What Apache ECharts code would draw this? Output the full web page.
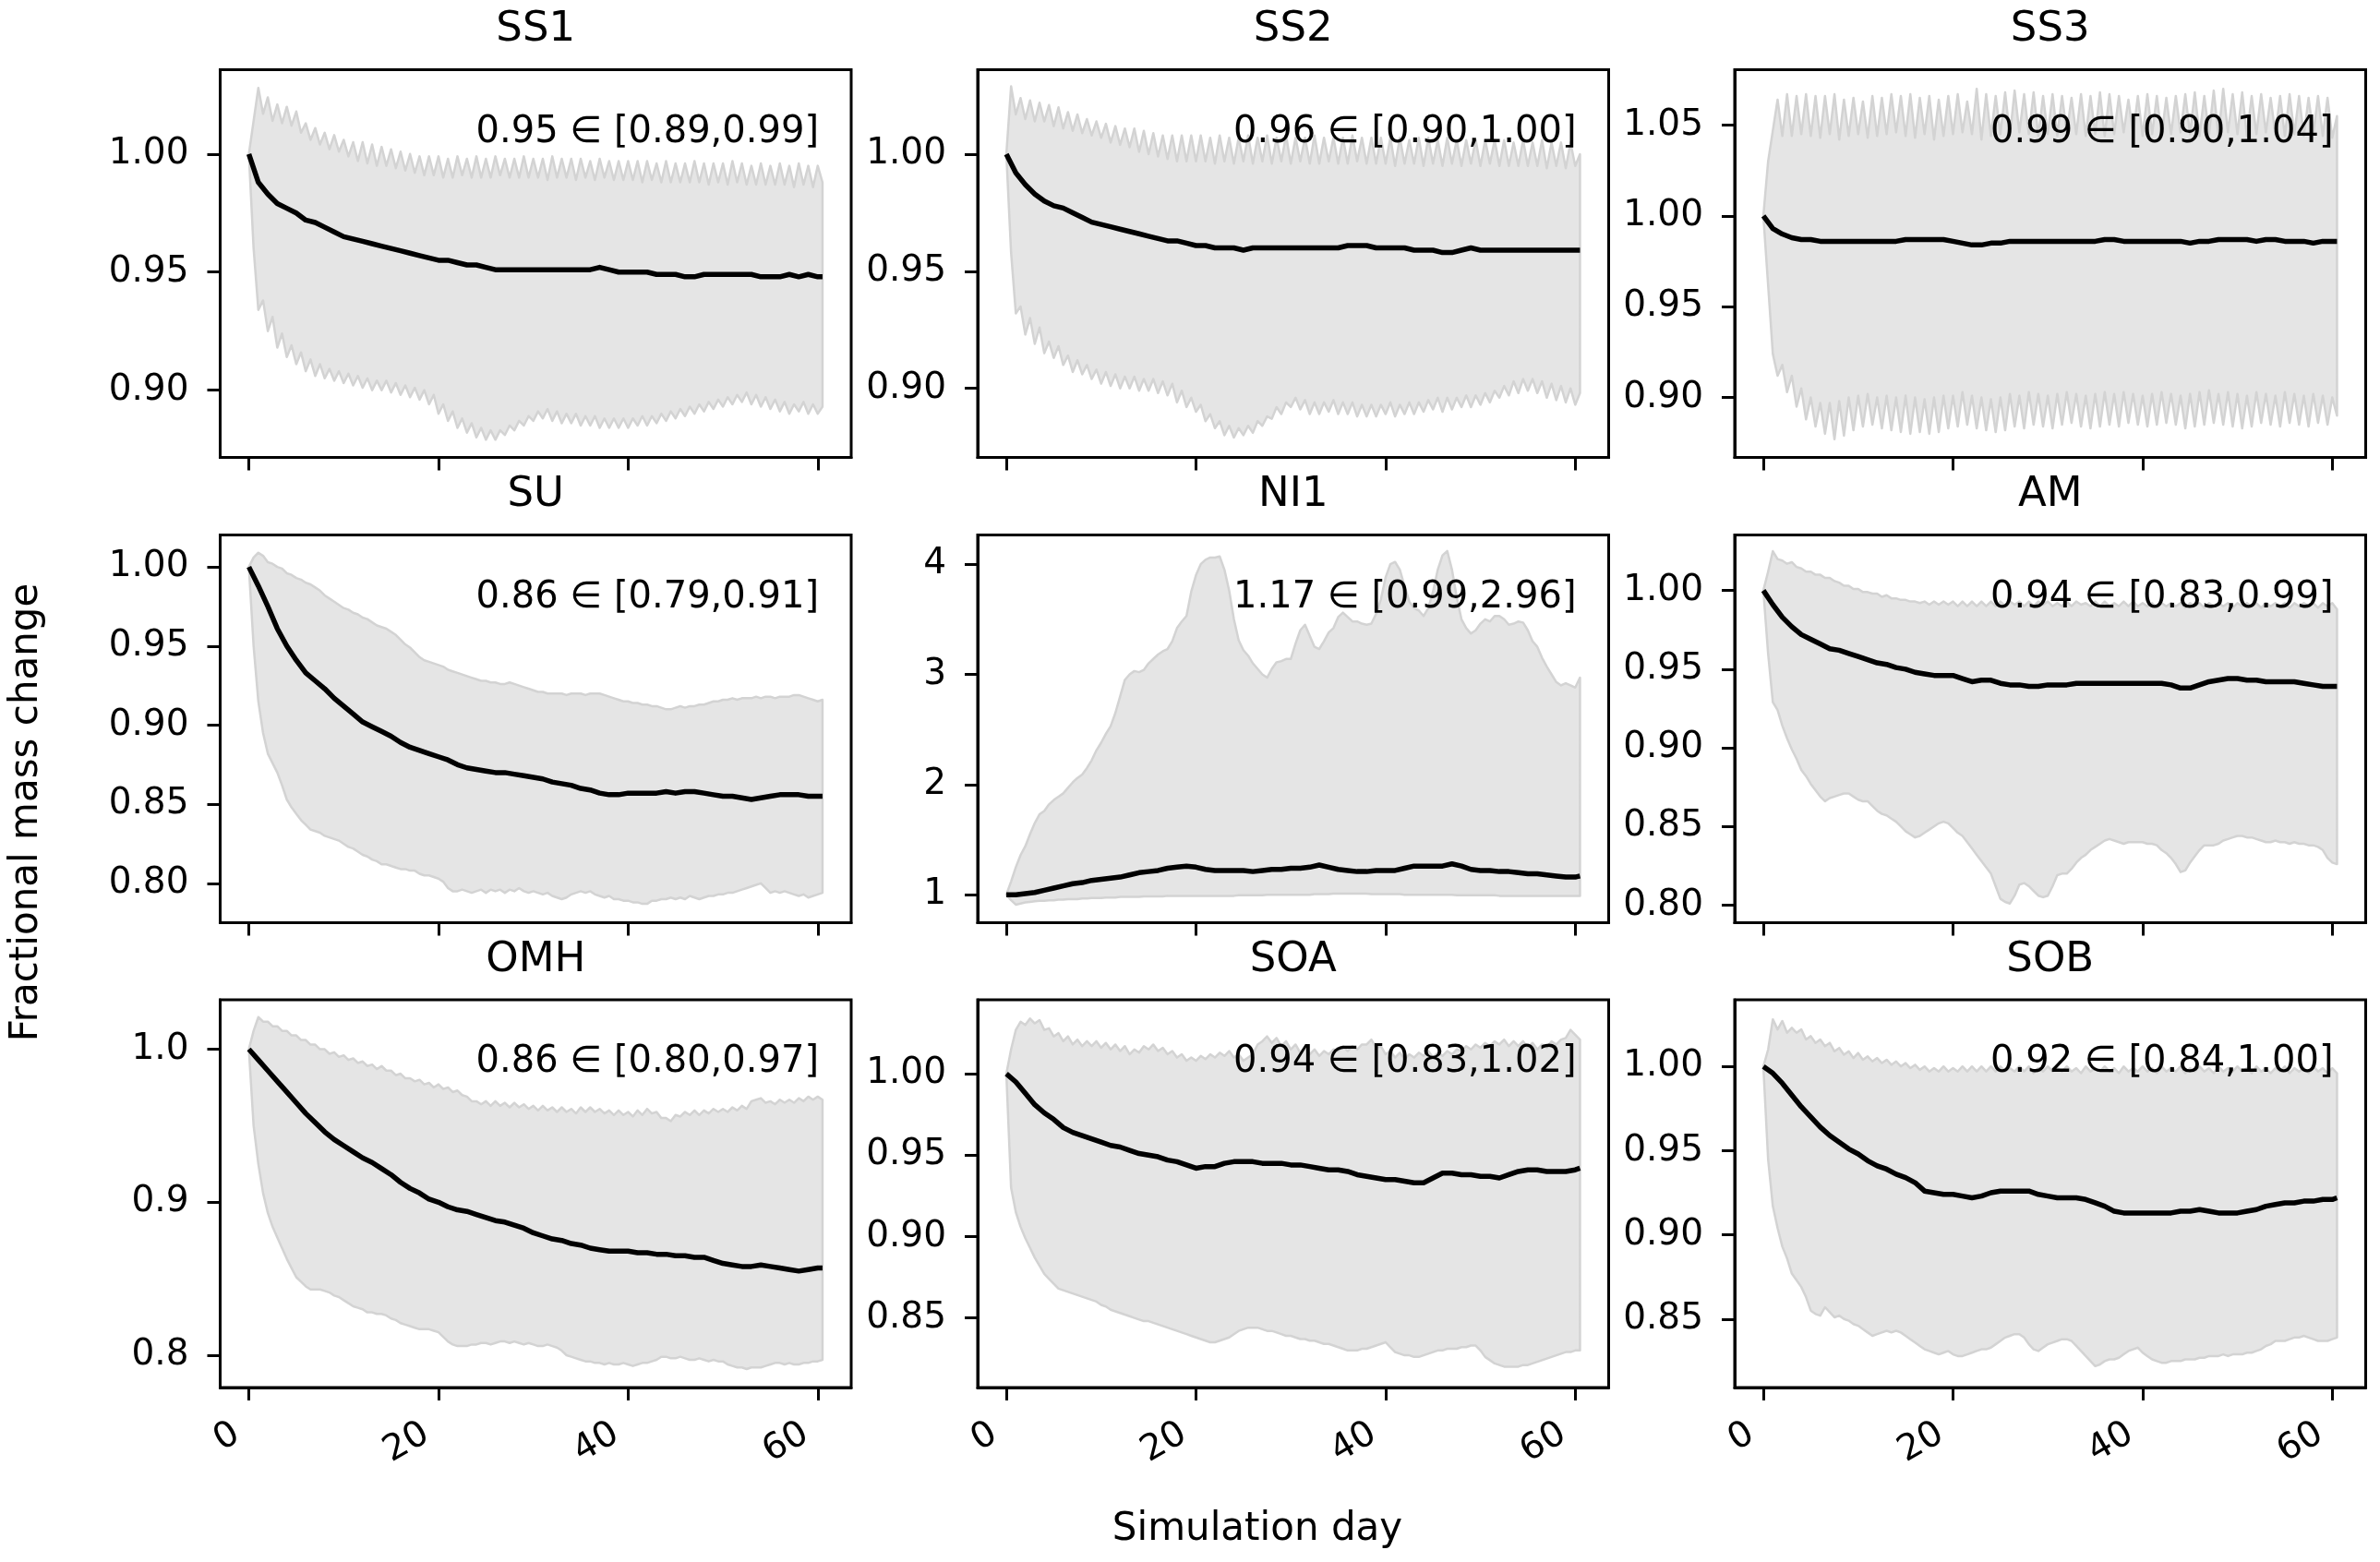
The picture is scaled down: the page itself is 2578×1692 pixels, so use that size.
<!DOCTYPE html>
<html>
<head>
<meta charset="utf-8">
<title>Fractional mass change</title>
<script src="https://cdn.jsdelivr.net/npm/echarts@6/dist/echarts.min.js"></script>
<style>
  html, body { margin: 0; padding: 0; background: #fff; }
  #chart { width: 2578px; height: 1692px; }
</style>
</head>
<body>
<div id="chart"></div>
<script>
// x values: bands sampled every half day, mean lines daily
const halfDays = [
  0,0.5,1,1.5,2,2.5,3,3.5,4,4.5, 5,5.5,6,6.5,7,7.5,8,8.5,9,9.5,
  10,10.5,11,11.5,12,12.5,13,13.5,14,14.5, 15,15.5,16,16.5,17,17.5,18,18.5,19,19.5,
  20,20.5,21,21.5,22,22.5,23,23.5,24,24.5, 25,25.5,26,26.5,27,27.5,28,28.5,29,29.5,
  30,30.5,31,31.5,32,32.5,33,33.5,34,34.5, 35,35.5,36,36.5,37,37.5,38,38.5,39,39.5,
  40,40.5,41,41.5,42,42.5,43,43.5,44,44.5, 45,45.5,46,46.5,47,47.5,48,48.5,49,49.5,
  50,50.5,51,51.5,52,52.5,53,53.5,54,54.5, 55,55.5,56,56.5,57,57.5,58,58.5,59,59.5,
  60,60.5
];
const days = [
  0,1,2,3,4,5,6,7,8,9, 10,11,12,13,14,15,16,17,18,19,
  20,21,22,23,24,25,26,27,28,29, 30,31,32,33,34,35,36,37,38,39,
  40,41,42,43,44,45,46,47,48,49, 50,51,52,53,54,55,56,57,58,59,
  60,60.5
];

// ---- SS1
const ss1Hi = [
  1.000,1.014,1.028,1.017,1.024,1.014,1.021,1.013,1.020,1.012,
  1.018,1.009,1.013,1.006,1.011,1.004,1.009,1.002,1.008,1.001,
  1.006,0.999,1.005,0.997,1.005,0.996,1.004,0.995,1.003,0.995,
  1.002,0.994,1.001,0.993,1.000,0.992,0.999,0.991,0.999,0.991,
  0.999,0.990,0.998,0.990,0.999,0.991,0.998,0.990,0.999,0.990,
  0.998,0.990,0.999,0.991,0.998,0.990,0.998,0.990,0.999,0.990,
  0.998,0.990,0.998,0.989,0.999,0.990,0.998,0.990,0.998,0.989,
  0.998,0.990,0.997,0.989,0.998,0.990,0.997,0.989,0.997,0.989,
  0.997,0.989,0.997,0.988,0.997,0.989,0.996,0.988,0.997,0.988,
  0.996,0.988,0.996,0.988,0.997,0.988,0.996,0.987,0.996,0.988,
  0.996,0.987,0.997,0.988,0.996,0.987,0.995,0.987,0.996,0.987,
  0.995,0.987,0.996,0.987,0.995,0.986,0.996,0.987,0.995,0.986,
  0.995,0.988
];
const ss1Lo = [
  1.000,0.960,0.934,0.938,0.925,0.931,0.918,0.924,0.914,0.919,
  0.911,0.916,0.908,0.913,0.906,0.911,0.905,0.909,0.904,0.908,
  0.903,0.907,0.902,0.906,0.901,0.905,0.900,0.904,0.900,0.904,
  0.899,0.903,0.898,0.902,0.897,0.901,0.896,0.900,0.894,0.898,
  0.890,0.894,0.887,0.891,0.884,0.888,0.882,0.886,0.880,0.884,
  0.879,0.883,0.879,0.883,0.881,0.885,0.883,0.887,0.885,0.889,
  0.887,0.891,0.888,0.892,0.887,0.891,0.886,0.890,0.886,0.890,
  0.885,0.889,0.885,0.889,0.884,0.888,0.884,0.888,0.884,0.888,
  0.884,0.888,0.885,0.889,0.885,0.889,0.886,0.890,0.887,0.891,
  0.888,0.892,0.889,0.893,0.890,0.894,0.891,0.895,0.892,0.896,
  0.893,0.897,0.894,0.898,0.895,0.899,0.894,0.898,0.893,0.897,
  0.892,0.896,0.891,0.895,0.890,0.894,0.891,0.895,0.890,0.894,
  0.890,0.893
];
const ss1Mean = [
  1.000,0.988,0.983,0.979,0.977,0.975,0.972,0.971,0.969,0.967,
  0.965,0.964,0.963,0.962,0.961,0.960,0.959,0.958,0.957,0.956,
  0.955,0.955,0.954,0.953,0.953,0.952,0.951,0.951,0.951,0.951,
  0.951,0.951,0.951,0.951,0.951,0.951,0.951,0.952,0.951,0.950,
  0.950,0.950,0.950,0.949,0.949,0.949,0.948,0.948,0.949,0.949,
  0.949,0.949,0.949,0.949,0.948,0.948,0.948,0.949,0.948,0.949,
  0.948,0.948
];

// ---- SS2
const ss2Hi = [
  1.000,1.029,1.017,1.024,1.015,1.023,1.014,1.022,1.014,1.021,
  1.012,1.020,1.011,1.018,1.010,1.017,1.009,1.015,1.008,1.014,
  1.007,1.013,1.005,1.012,1.004,1.011,1.003,1.011,1.001,1.010,
  1.000,1.009,0.999,1.008,0.998,1.008,0.997,1.008,0.997,1.008,
  0.997,1.008,0.997,1.007,0.996,1.008,0.997,1.007,0.996,1.007,
  0.997,1.008,0.996,1.007,0.997,1.008,0.996,1.007,0.997,1.008,
  0.996,1.007,0.997,1.007,0.996,1.008,0.996,1.007,0.997,1.007,
  0.996,1.007,0.996,1.008,0.997,1.007,0.996,1.007,0.996,1.007,
  0.996,1.007,0.995,1.007,0.996,1.006,0.996,1.007,0.995,1.007,
  0.996,1.006,0.995,1.007,0.996,1.006,0.995,1.006,0.996,1.006,
  0.995,1.006,0.996,1.006,0.995,1.006,0.995,1.005,0.995,1.006,
  0.995,1.005,0.995,1.006,0.994,1.005,0.995,1.005,0.994,1.005,
  0.995,1.000
];
const ss2Lo = [
  1.000,0.958,0.932,0.935,0.923,0.930,0.919,0.926,0.915,0.920,
  0.913,0.918,0.910,0.914,0.907,0.912,0.906,0.910,0.904,0.908,
  0.902,0.907,0.901,0.906,0.900,0.905,0.900,0.905,0.899,0.904,
  0.899,0.904,0.898,0.903,0.897,0.902,0.894,0.899,0.892,0.896,
  0.890,0.893,0.886,0.889,0.883,0.886,0.880,0.884,0.879,0.883,
  0.880,0.884,0.881,0.886,0.884,0.888,0.887,0.892,0.889,0.894,
  0.892,0.896,0.891,0.895,0.889,0.894,0.889,0.894,0.890,0.895,
  0.889,0.894,0.889,0.894,0.888,0.893,0.888,0.893,0.888,0.893,
  0.889,0.894,0.888,0.893,0.889,0.894,0.889,0.894,0.890,0.895,
  0.891,0.896,0.890,0.896,0.891,0.896,0.892,0.897,0.892,0.897,
  0.893,0.898,0.894,0.899,0.896,0.901,0.897,0.903,0.898,0.904,
  0.899,0.904,0.898,0.903,0.896,0.902,0.895,0.901,0.894,0.900,
  0.893,0.898
];
const ss2Mean = [
  1.000,0.992,0.987,0.983,0.980,0.978,0.977,0.975,0.973,0.971,
  0.970,0.969,0.968,0.967,0.966,0.965,0.964,0.963,0.963,0.962,
  0.961,0.961,0.960,0.960,0.960,0.959,0.960,0.960,0.960,0.960,
  0.960,0.960,0.960,0.960,0.960,0.960,0.961,0.961,0.961,0.960,
  0.960,0.960,0.960,0.959,0.959,0.959,0.958,0.958,0.959,0.960,
  0.959,0.959,0.959,0.959,0.959,0.959,0.959,0.959,0.959,0.959,
  0.959,0.959
];

// ---- SS3
const ss3Hi = [
  1.000,1.030,1.047,1.064,1.044,1.067,1.044,1.066,1.045,1.067,
  1.044,1.066,1.043,1.066,1.045,1.067,1.042,1.064,1.044,1.065,
  1.045,1.063,1.043,1.066,1.044,1.065,1.045,1.067,1.046,1.066,
  1.044,1.067,1.043,1.065,1.045,1.066,1.042,1.064,1.044,1.066,
  1.045,1.067,1.046,1.063,1.045,1.070,1.042,1.067,1.044,1.066,
  1.045,1.068,1.044,1.069,1.046,1.067,1.045,1.068,1.044,1.066,
  1.045,1.067,1.044,1.066,1.046,1.065,1.045,1.067,1.044,1.066,
  1.045,1.068,1.044,1.067,1.045,1.066,1.046,1.064,1.045,1.066,
  1.044,1.067,1.045,1.066,1.044,1.065,1.045,1.066,1.046,1.067,
  1.045,1.068,1.044,1.066,1.045,1.069,1.044,1.070,1.046,1.067,
  1.045,1.068,1.044,1.066,1.045,1.067,1.046,1.065,1.045,1.066,
  1.044,1.067,1.045,1.066,1.044,1.065,1.045,1.066,1.044,1.065,
  1.043,1.055
];
const ss3Lo = [
  1.000,0.962,0.924,0.912,0.918,0.903,0.912,0.895,0.905,0.888,
  0.900,0.884,0.897,0.880,0.897,0.877,0.898,0.879,0.900,0.882,
  0.901,0.884,0.902,0.885,0.900,0.883,0.901,0.882,0.900,0.881,
  0.901,0.880,0.900,0.881,0.899,0.880,0.900,0.881,0.901,0.883,
  0.901,0.884,0.903,0.885,0.901,0.883,0.900,0.882,0.899,0.881,
  0.900,0.882,0.902,0.884,0.901,0.883,0.903,0.885,0.902,0.884,
  0.901,0.883,0.902,0.885,0.903,0.886,0.902,0.884,0.901,0.883,
  0.902,0.884,0.903,0.885,0.902,0.884,0.903,0.886,0.902,0.885,
  0.901,0.884,0.902,0.885,0.903,0.886,0.902,0.885,0.901,0.883,
  0.902,0.884,0.903,0.885,0.904,0.886,0.902,0.885,0.903,0.884,
  0.902,0.883,0.901,0.884,0.903,0.886,0.902,0.885,0.901,0.884,
  0.903,0.886,0.902,0.885,0.901,0.884,0.902,0.886,0.901,0.885,
  0.900,0.890
];
const ss3Mean = [
  1.000,0.993,0.990,0.988,0.987,0.987,0.986,0.986,0.986,0.986,
  0.986,0.986,0.986,0.986,0.986,0.987,0.987,0.987,0.987,0.987,
  0.986,0.985,0.984,0.984,0.985,0.985,0.986,0.986,0.986,0.986,
  0.986,0.986,0.986,0.986,0.986,0.986,0.987,0.987,0.986,0.986,
  0.986,0.986,0.986,0.986,0.986,0.985,0.986,0.986,0.987,0.987,
  0.987,0.987,0.986,0.987,0.987,0.986,0.986,0.986,0.985,0.986,
  0.986,0.986
];

// ---- SU
const suHi = [
  1.000,1.006,1.009,1.007,1.003,1.002,1.000,0.999,0.996,0.995,
  0.993,0.992,0.990,0.989,0.987,0.985,0.982,0.980,0.978,0.976,
  0.974,0.973,0.971,0.970,0.968,0.967,0.965,0.963,0.962,0.961,
  0.959,0.957,0.954,0.951,0.949,0.946,0.943,0.941,0.940,0.939,
  0.938,0.937,0.935,0.934,0.933,0.932,0.931,0.930,0.929,0.928,
  0.928,0.927,0.927,0.926,0.926,0.927,0.926,0.925,0.924,0.923,
  0.922,0.921,0.921,0.920,0.920,0.920,0.920,0.919,0.920,0.920,
  0.920,0.919,0.920,0.920,0.920,0.919,0.918,0.917,0.916,0.915,
  0.915,0.914,0.914,0.913,0.913,0.912,0.912,0.911,0.910,0.910,
  0.911,0.912,0.911,0.912,0.912,0.913,0.913,0.914,0.915,0.915,
  0.916,0.916,0.917,0.916,0.917,0.917,0.917,0.918,0.917,0.918,
  0.918,0.917,0.918,0.918,0.918,0.919,0.919,0.918,0.917,0.916,
  0.915,0.916
];
const suLo = [
  1.000,0.950,0.915,0.895,0.882,0.876,0.870,0.862,0.853,0.848,
  0.844,0.840,0.837,0.834,0.833,0.832,0.830,0.829,0.828,0.827,
  0.825,0.823,0.822,0.820,0.818,0.817,0.815,0.814,0.812,0.812,
  0.811,0.810,0.809,0.809,0.808,0.808,0.806,0.805,0.805,0.804,
  0.803,0.801,0.797,0.795,0.795,0.796,0.795,0.794,0.795,0.796,
  0.794,0.796,0.795,0.796,0.794,0.796,0.795,0.797,0.795,0.794,
  0.795,0.794,0.793,0.794,0.792,0.791,0.790,0.791,0.793,0.794,
  0.795,0.794,0.795,0.793,0.792,0.791,0.792,0.790,0.790,0.789,
  0.789,0.788,0.788,0.787,0.787,0.789,0.789,0.790,0.790,0.791,
  0.790,0.791,0.790,0.792,0.791,0.790,0.791,0.792,0.792,0.793,
  0.793,0.794,0.794,0.795,0.796,0.797,0.798,0.799,0.800,0.797,
  0.794,0.795,0.794,0.795,0.794,0.793,0.792,0.793,0.791,0.792,
  0.793,0.794
];
const suMean = [
  1.000,0.988,0.975,0.961,0.950,0.941,0.933,0.928,0.923,0.917,
  0.912,0.907,0.902,0.899,0.896,0.893,0.889,0.886,0.884,0.882,
  0.880,0.878,0.875,0.873,0.872,0.871,0.870,0.870,0.869,0.868,
  0.867,0.866,0.864,0.863,0.862,0.860,0.859,0.857,0.856,0.856,
  0.857,0.857,0.857,0.857,0.858,0.857,0.858,0.858,0.857,0.856,
  0.855,0.855,0.854,0.853,0.854,0.855,0.856,0.856,0.856,0.855,
  0.855,0.855
];

// ---- NI1
const ni1Hi = [
  1.00,1.12,1.25,1.36,1.44,1.55,1.65,1.73,1.76,1.82,
  1.86,1.89,1.92,1.97,2.02,2.06,2.09,2.15,2.22,2.31,
  2.38,2.46,2.53,2.65,2.80,2.95,3.00,3.03,3.02,3.04,
  3.10,3.14,3.18,3.21,3.23,3.30,3.42,3.48,3.53,3.75,
  3.90,4.00,4.04,4.06,4.06,4.07,3.95,3.76,3.50,3.31,
  3.22,3.17,3.10,3.05,3.00,2.97,3.05,3.11,3.12,3.14,
  3.14,3.28,3.40,3.45,3.35,3.25,3.23,3.30,3.38,3.42,
  3.52,3.56,3.52,3.48,3.48,3.46,3.45,3.46,3.55,3.68,
  3.88,4.00,4.02,3.95,3.80,3.66,3.60,3.58,3.53,3.60,
  3.75,3.95,4.08,4.12,3.95,3.70,3.50,3.42,3.37,3.40,
  3.46,3.50,3.48,3.53,3.53,3.50,3.45,3.46,3.48,3.47,
  3.40,3.30,3.25,3.15,3.07,3.00,2.93,2.90,2.92,2.90,
  2.88,2.97
];
const ni1Lo = [
  1.00,0.95,0.91,0.92,0.93,0.935,0.94,0.945,0.945,0.95,
  0.95,0.955,0.955,0.96,0.96,0.96,0.965,0.965,0.97,0.97,
  0.97,0.975,0.975,0.975,0.98,0.98,0.98,0.98,0.98,0.985,
  0.985,0.985,0.985,0.985,0.99,0.99,0.99,0.99,0.99,0.99,
  0.99,0.99,0.99,0.99,0.99,0.99,0.99,0.99,0.99,0.995,
  0.995,0.995,0.995,0.995,0.995,1.00,1.00,1.00,1.00,1.00,
  1.00,1.00,1.00,1.00,1.00,1.005,1.005,1.005,1.005,1.01,
  1.01,1.01,1.01,1.01,1.01,1.01,1.01,1.005,1.005,1.005,
  1.005,1.005,1.005,1.005,1.00,1.00,1.00,1.00,1.00,1.00,
  1.00,1.00,1.00,1.00,1.00,0.995,0.995,0.995,0.995,0.995,
  0.995,0.995,0.995,0.995,0.99,0.99,0.99,0.99,0.99,0.99,
  0.99,0.99,0.99,0.99,0.99,0.99,0.99,0.99,0.99,0.99,
  0.99,0.99
];
const ni1Mean = [
  1.00,1.00,1.01,1.02,1.04,1.06,1.08,1.10,1.11,1.13,
  1.14,1.15,1.16,1.18,1.20,1.21,1.22,1.24,1.25,1.26,
  1.25,1.23,1.22,1.22,1.22,1.22,1.21,1.22,1.23,1.23,
  1.24,1.24,1.25,1.27,1.25,1.23,1.22,1.21,1.21,1.22,
  1.22,1.22,1.24,1.26,1.26,1.26,1.26,1.28,1.26,1.23,
  1.22,1.22,1.21,1.21,1.20,1.19,1.19,1.18,1.17,1.16,
  1.16,1.17
];

// ---- AM
const amHi = [
  1.000,1.012,1.025,1.020,1.019,1.017,1.018,1.015,1.014,1.012,
  1.012,1.010,1.010,1.008,1.008,1.006,1.005,1.003,1.003,1.001,
  1.001,0.999,0.999,0.998,0.998,0.996,0.997,0.995,0.995,0.994,
  0.994,0.993,0.993,0.992,0.993,0.991,0.993,0.991,0.993,0.991,
  0.993,0.990,0.993,0.990,0.993,0.990,0.993,0.990,0.993,0.990,
  0.993,0.990,0.993,0.991,0.993,0.990,0.993,0.990,0.993,0.991,
  0.993,0.990,0.992,0.990,0.993,0.990,0.993,0.991,0.992,0.990,
  0.993,0.990,0.993,0.990,0.992,0.990,0.993,0.990,0.993,0.990,
  0.992,0.990,0.992,0.989,0.992,0.990,0.992,0.990,0.992,0.989,
  0.992,0.990,0.992,0.989,0.992,0.990,0.992,0.990,0.992,0.989,
  0.992,0.990,0.992,0.990,0.992,0.989,0.992,0.990,0.992,0.990,
  0.992,0.989,0.992,0.990,0.992,0.990,0.992,0.989,0.992,0.990,
  0.992,0.988
];
const amLo = [
  1.000,0.960,0.929,0.924,0.914,0.906,0.899,0.893,0.886,0.882,
  0.877,0.873,0.869,0.866,0.868,0.869,0.870,0.871,0.871,0.869,
  0.867,0.866,0.866,0.863,0.860,0.858,0.857,0.855,0.853,0.850,
  0.847,0.845,0.843,0.844,0.846,0.848,0.850,0.852,0.853,0.852,
  0.849,0.846,0.844,0.840,0.836,0.832,0.828,0.824,0.820,0.812,
  0.804,0.802,0.801,0.806,0.813,0.814,0.812,0.809,0.806,0.805,
  0.806,0.812,0.819,0.820,0.820,0.823,0.827,0.830,0.832,0.835,
  0.837,0.839,0.841,0.842,0.841,0.840,0.839,0.840,0.840,0.840,
  0.840,0.839,0.839,0.838,0.835,0.833,0.830,0.826,0.821,0.822,
  0.827,0.831,0.835,0.838,0.838,0.838,0.839,0.841,0.842,0.843,
  0.844,0.844,0.843,0.843,0.842,0.841,0.840,0.840,0.841,0.840,
  0.840,0.839,0.840,0.839,0.839,0.838,0.838,0.837,0.835,0.830,
  0.827,0.826
];
const amMean = [
  1.000,0.991,0.983,0.977,0.972,0.969,0.966,0.963,0.962,0.960,
  0.958,0.956,0.954,0.953,0.951,0.950,0.948,0.947,0.946,0.946,
  0.946,0.944,0.942,0.943,0.943,0.941,0.940,0.940,0.939,0.939,
  0.940,0.940,0.940,0.941,0.941,0.941,0.941,0.941,0.941,0.941,
  0.941,0.941,0.941,0.940,0.938,0.938,0.940,0.942,0.943,0.944,
  0.944,0.943,0.943,0.942,0.942,0.942,0.942,0.941,0.940,0.939,
  0.939,0.939
];

// ---- OMH
const omhHi = [
  1.000,1.012,1.021,1.018,1.018,1.015,1.015,1.012,1.012,1.009,
  1.009,1.006,1.006,1.003,1.003,1.000,1.000,0.997,0.998,0.995,
  0.996,0.993,0.994,0.991,0.992,0.989,0.990,0.987,0.989,0.986,
  0.986,0.983,0.984,0.981,0.981,0.979,0.980,0.977,0.978,0.975,
  0.977,0.974,0.975,0.972,0.973,0.970,0.969,0.966,0.966,0.964,
  0.966,0.963,0.966,0.963,0.965,0.962,0.965,0.962,0.964,0.961,
  0.963,0.960,0.963,0.960,0.962,0.959,0.962,0.959,0.961,0.958,
  0.962,0.959,0.962,0.959,0.961,0.958,0.960,0.957,0.960,0.957,
  0.959,0.956,0.960,0.957,0.961,0.958,0.959,0.955,0.955,0.953,
  0.957,0.956,0.959,0.957,0.960,0.957,0.960,0.958,0.961,0.959,
  0.961,0.959,0.962,0.960,0.963,0.961,0.966,0.967,0.968,0.965,
  0.966,0.964,0.967,0.965,0.967,0.965,0.968,0.966,0.969,0.967,
  0.969,0.967
];
const omhLo = [
  1.000,0.950,0.925,0.906,0.893,0.884,0.877,0.870,0.863,0.857,
  0.851,0.848,0.845,0.843,0.843,0.843,0.842,0.841,0.839,0.838,
  0.836,0.834,0.832,0.831,0.830,0.828,0.828,0.827,0.827,0.826,
  0.824,0.823,0.821,0.820,0.819,0.818,0.817,0.817,0.817,0.816,
  0.815,0.812,0.809,0.807,0.806,0.806,0.806,0.807,0.807,0.808,
  0.808,0.807,0.808,0.809,0.809,0.808,0.809,0.808,0.807,0.808,
  0.807,0.806,0.806,0.807,0.806,0.805,0.803,0.800,0.799,0.798,
  0.797,0.796,0.796,0.795,0.795,0.794,0.795,0.794,0.794,0.795,
  0.794,0.793,0.794,0.795,0.795,0.796,0.797,0.799,0.799,0.798,
  0.798,0.799,0.798,0.797,0.797,0.798,0.797,0.796,0.797,0.796,
  0.796,0.794,0.793,0.792,0.792,0.791,0.792,0.792,0.792,0.793,
  0.794,0.795,0.795,0.794,0.795,0.794,0.794,0.795,0.795,0.796,
  0.796,0.797
];
const omhMean = [
  1.000,0.993,0.986,0.979,0.972,0.965,0.958,0.952,0.946,0.941,
  0.937,0.933,0.929,0.926,0.922,0.918,0.913,0.909,0.906,0.902,
  0.900,0.897,0.895,0.894,0.892,0.890,0.888,0.887,0.885,0.883,
  0.880,0.878,0.876,0.875,0.873,0.872,0.870,0.869,0.868,0.868,
  0.868,0.867,0.867,0.866,0.866,0.865,0.865,0.864,0.864,0.862,
  0.860,0.859,0.858,0.858,0.859,0.858,0.857,0.856,0.855,0.856,
  0.857,0.857
];

// ---- SOA
const soaHi = [
  1.000,1.015,1.027,1.032,1.030,1.034,1.031,1.033,1.027,1.028,
  1.023,1.025,1.020,1.023,1.018,1.021,1.017,1.020,1.017,1.020,
  1.016,1.019,1.015,1.018,1.014,1.017,1.012,1.015,1.013,1.017,
  1.015,1.018,1.014,1.016,1.012,1.014,1.010,1.012,1.008,1.010,
  1.008,1.011,1.009,1.012,1.010,1.013,1.011,1.014,1.010,1.012,
  1.008,1.010,1.012,1.018,1.020,1.023,1.019,1.022,1.017,1.020,
  1.015,1.018,1.013,1.016,1.012,1.015,1.011,1.014,1.012,1.015,
  1.014,1.017,1.014,1.017,1.015,1.018,1.018,1.021,1.016,1.017,
  1.012,1.014,1.010,1.013,1.009,1.012,1.010,1.013,1.011,1.014,
  1.010,1.013,1.011,1.014,1.012,1.015,1.014,1.017,1.015,1.018,
  1.016,1.019,1.017,1.020,1.018,1.021,1.017,1.020,1.017,1.020,
  1.016,1.019,1.015,1.018,1.016,1.020,1.018,1.021,1.022,1.027,
  1.024,1.021
];
const soaLo = [
  1.000,0.930,0.915,0.906,0.899,0.893,0.887,0.882,0.877,0.874,
  0.871,0.868,0.867,0.866,0.865,0.864,0.863,0.862,0.861,0.860,
  0.858,0.857,0.855,0.854,0.853,0.852,0.851,0.850,0.849,0.848,
  0.848,0.847,0.846,0.845,0.844,0.843,0.842,0.841,0.840,0.839,
  0.838,0.837,0.836,0.835,0.835,0.836,0.837,0.838,0.840,0.842,
  0.843,0.844,0.844,0.844,0.843,0.842,0.842,0.841,0.840,0.839,
  0.839,0.838,0.837,0.837,0.836,0.836,0.835,0.834,0.834,0.833,
  0.832,0.831,0.830,0.830,0.830,0.831,0.831,0.832,0.833,0.834,
  0.835,0.832,0.829,0.828,0.827,0.827,0.826,0.826,0.827,0.828,
  0.829,0.830,0.830,0.831,0.831,0.831,0.832,0.832,0.833,0.833,
  0.830,0.826,0.824,0.822,0.821,0.820,0.820,0.820,0.820,0.821,
  0.821,0.822,0.823,0.824,0.825,0.826,0.827,0.828,0.829,0.829,
  0.830,0.830
];
const soaMean = [
  1.000,0.995,0.988,0.981,0.976,0.972,0.967,0.964,0.962,0.960,
  0.958,0.956,0.955,0.953,0.951,0.950,0.949,0.947,0.946,0.944,
  0.942,0.943,0.943,0.945,0.946,0.946,0.946,0.945,0.945,0.945,
  0.944,0.944,0.943,0.942,0.941,0.941,0.940,0.938,0.937,0.936,
  0.935,0.935,0.934,0.933,0.933,0.936,0.939,0.939,0.938,0.938,
  0.937,0.937,0.936,0.938,0.940,0.941,0.941,0.940,0.940,0.940,
  0.941,0.942
];

// ---- SOB
const sobHi = [
  1.000,1.010,1.028,1.022,1.027,1.020,1.023,1.020,1.022,1.016,
  1.018,1.014,1.016,1.012,1.014,1.009,1.011,1.007,1.009,1.005,
  1.008,1.004,1.006,1.003,1.005,1.002,1.004,1.001,1.003,1.000,
  1.002,0.999,1.001,0.998,1.000,0.997,0.999,0.997,1.000,0.997,
  0.999,0.997,1.000,0.997,1.000,0.997,1.000,0.997,1.000,0.997,
  1.000,0.997,0.999,0.997,1.000,0.997,1.000,0.996,0.999,0.997,
  1.000,0.997,0.999,0.997,1.000,0.997,0.999,0.996,1.000,0.997,
  0.999,0.997,1.000,0.997,0.999,0.996,1.000,0.997,0.999,0.997,
  1.000,0.997,0.999,0.996,1.000,0.997,0.999,0.997,1.000,0.996,
  0.999,0.997,1.000,0.997,0.999,0.996,1.000,0.997,0.999,0.997,
  1.000,0.997,0.999,0.996,1.000,0.997,0.999,0.996,0.999,0.997,
  1.000,0.996,0.999,0.997,0.999,0.996,1.000,0.997,0.999,0.996,
  0.999,0.996
];
const sobLo = [
  1.000,0.945,0.917,0.904,0.893,0.886,0.877,0.873,0.869,0.863,
  0.855,0.853,0.852,0.857,0.854,0.851,0.852,0.850,0.849,0.847,
  0.846,0.844,0.842,0.840,0.841,0.842,0.843,0.842,0.843,0.842,
  0.840,0.838,0.836,0.834,0.832,0.831,0.830,0.829,0.830,0.831,
  0.829,0.828,0.828,0.829,0.830,0.831,0.832,0.832,0.833,0.835,
  0.837,0.839,0.840,0.841,0.841,0.839,0.835,0.832,0.831,0.833,
  0.835,0.836,0.837,0.838,0.838,0.837,0.834,0.831,0.828,0.825,
  0.822,0.823,0.825,0.826,0.826,0.827,0.829,0.831,0.832,0.833,
  0.830,0.828,0.826,0.825,0.824,0.824,0.825,0.825,0.825,0.826,
  0.826,0.826,0.827,0.827,0.828,0.828,0.828,0.829,0.828,0.829,
  0.829,0.829,0.830,0.830,0.831,0.832,0.834,0.835,0.837,0.837,
  0.837,0.838,0.839,0.839,0.840,0.839,0.838,0.837,0.837,0.837,
  0.838,0.839
];
const sobMean = [
  1.000,0.996,0.990,0.983,0.976,0.970,0.964,0.959,0.955,0.951,
  0.948,0.944,0.941,0.939,0.936,0.934,0.931,0.926,0.925,0.924,
  0.924,0.923,0.922,0.923,0.925,0.926,0.926,0.926,0.926,0.924,
  0.923,0.922,0.922,0.922,0.921,0.919,0.917,0.914,0.913,0.913,
  0.913,0.913,0.913,0.913,0.914,0.914,0.915,0.914,0.913,0.913,
  0.913,0.914,0.915,0.917,0.918,0.919,0.919,0.920,0.920,0.921,
  0.921,0.922
];

// ---- panel labels and y axes
const titles = ['SS1', 'SS2', 'SS3', 'SU', 'NI1', 'AM', 'OMH', 'SOA', 'SOB'];
const notes = [
  '0.95 ∈ [0.89,0.99]', '0.96 ∈ [0.90,1.00]', '0.99 ∈ [0.90,1.04]',
  '0.86 ∈ [0.79,0.91]', '1.17 ∈ [0.99,2.96]', '0.94 ∈ [0.83,0.99]',
  '0.86 ∈ [0.80,0.97]', '0.94 ∈ [0.83,1.02]', '0.92 ∈ [0.84,1.00]'
];
const yMins = [0.8715, 0.8705, 0.867, 0.7751, 0.746, 0.7888, 0.7789, 0.8072, 0.8093];
const yMaxs = [1.0357, 1.0361, 1.0805, 1.0202, 4.265, 1.0353, 1.0323, 1.0455, 1.0396];
const yTicks = [
  [0.90, 0.95, 1.00], [0.90, 0.95, 1.00], [0.90, 0.95, 1.00, 1.05],
  [0.80, 0.85, 0.90, 0.95, 1.00], [1, 2, 3, 4], [0.80, 0.85, 0.90, 0.95, 1.00],
  [0.8, 0.9, 1.0], [0.85, 0.90, 0.95, 1.00], [0.85, 0.90, 0.95, 1.00]
];
const yDecimals = [2, 2, 2, 2, 0, 2, 1, 2, 2];
const xTicks = [0, 20, 40, 60];

const means = [ss1Mean, ss2Mean, ss3Mean, suMean, ni1Mean, amMean, omhMean, soaMean, sobMean];
const lows = [ss1Lo, ss2Lo, ss3Lo, suLo, ni1Lo, amLo, omhLo, soaLo, sobLo];
const highs = [ss1Hi, ss2Hi, ss3Hi, suHi, ni1Hi, amHi, omhHi, soaHi, sobHi];

// layout of the 3x3 panels (pixels)
const colLeft = [238.5, 1059, 1879];
const rowTop = [75.5, 579.5, 1083];
const boxW = 683.5;
const boxH = 420;
const FONT = '"DejaVu Sans", sans-serif';

// fills the min-max band as one polygon
function renderBand(params, api) {
    if (params.dataIndexInside !== 0) return null;
    const top = [], bottom = [];
    for (let i = 0; i < params.dataInsideLength; i++) {
        const x = api.value(0, i);
        bottom.push(api.coord([x, api.value(1, i)]));
        top.push(api.coord([x, api.value(2, i)]));
    }
    return {
        type: 'polygon',
        shape: { points: top.concat(bottom.reverse()) },
        style: { fill: '#e5e5e5', stroke: '#d3d3d3', lineWidth: 2.5, lineJoin: 'round' }
    };
}

const chart = echarts.init(document.getElementById('chart'), null, { renderer: 'canvas' });

const option = {
    animation: false,
    backgroundColor: '#ffffff',
    grid: [],
    xAxis: [],
    yAxis: [],
    series: [],
    graphic: []
};

titles.forEach((name, i) => {
    const r = Math.floor(i / 3), c = i % 3;
    const left = colLeft[c], top = rowTop[r];

    option.grid.push({
        left: left, top: top, width: boxW, height: boxH,
        show: true, borderColor: '#000', borderWidth: 3, backgroundColor: 'transparent'
    });

    option.xAxis.push({
        type: 'value', gridIndex: i, min: -3.025, max: 63.525,
        axisLine: { show: true, onZero: false, lineStyle: { color: '#000', width: 3 } },
        axisTick: { show: true, length: 14, lineStyle: { color: '#000', width: 3 }, customValues: xTicks },
        axisLabel: {
            show: r === 2, customValues: xTicks, rotate: 30, margin: 40,
            padding: [0, 15, 0, 0],
            fontSize: 39, fontFamily: FONT, color: '#000'
        },
        splitLine: { show: false }
    });

    const dec = yDecimals[i];
    option.yAxis.push({
        type: 'value', gridIndex: i, min: yMins[i], max: yMaxs[i],
        axisLine: { show: true, onZero: false, lineStyle: { color: '#000', width: 3 } },
        axisTick: { show: true, length: 14, lineStyle: { color: '#000', width: 3 }, customValues: yTicks[i] },
        axisLabel: {
            customValues: yTicks[i], margin: 34,
            formatter: v => Number(v).toFixed(dec),
            fontSize: 39, fontFamily: FONT, color: '#000'
        },
        splitLine: { show: false }
    });

    option.series.push({
        type: 'custom',
        xAxisIndex: i, yAxisIndex: i,
        data: halfDays.map((d, k) => [d, lows[i][k], highs[i][k]]),
        encode: { x: 0, y: [1, 2] },
        renderItem: renderBand,
        silent: true,
        z: 2
    });

    option.series.push({
        type: 'line',
        xAxisIndex: i, yAxisIndex: i,
        data: days.map((d, k) => [d, means[i][k]]),
        showSymbol: false, symbol: 'none',
        lineStyle: { color: '#000', width: 5.5, join: 'round' },
        silent: true,
        z: 3
    });

    // panel title
    option.graphic.push({
        type: 'text', x: left + boxW / 2, y: top - 43, silent: true,
        style: { text: name, font: '45px ' + FONT, fill: '#000', textAlign: 'center', textVerticalAlign: 'middle' }
    });
    // mean and range annotation
    option.graphic.push({
        type: 'text', x: left + boxW - 35, y: top + 68, silent: true, z: 10,
        style: { text: notes[i], font: '40px ' + FONT, fill: '#000', textAlign: 'right', textVerticalAlign: 'middle' }
    });
});

// shared axis labels
option.graphic.push({
    type: 'text', x: 1362, y: 1657, silent: true,
    style: { text: 'Simulation day', font: '42px ' + FONT, fill: '#000', textAlign: 'center', textVerticalAlign: 'middle' }
});
option.graphic.push({
    type: 'text', x: 29, y: 880, rotation: Math.PI / 2, silent: true,
    style: { text: 'Fractional mass change', font: '42px ' + FONT, fill: '#000', textAlign: 'center', textVerticalAlign: 'middle' }
});

chart.setOption(option);
</script>
</body>
</html>
